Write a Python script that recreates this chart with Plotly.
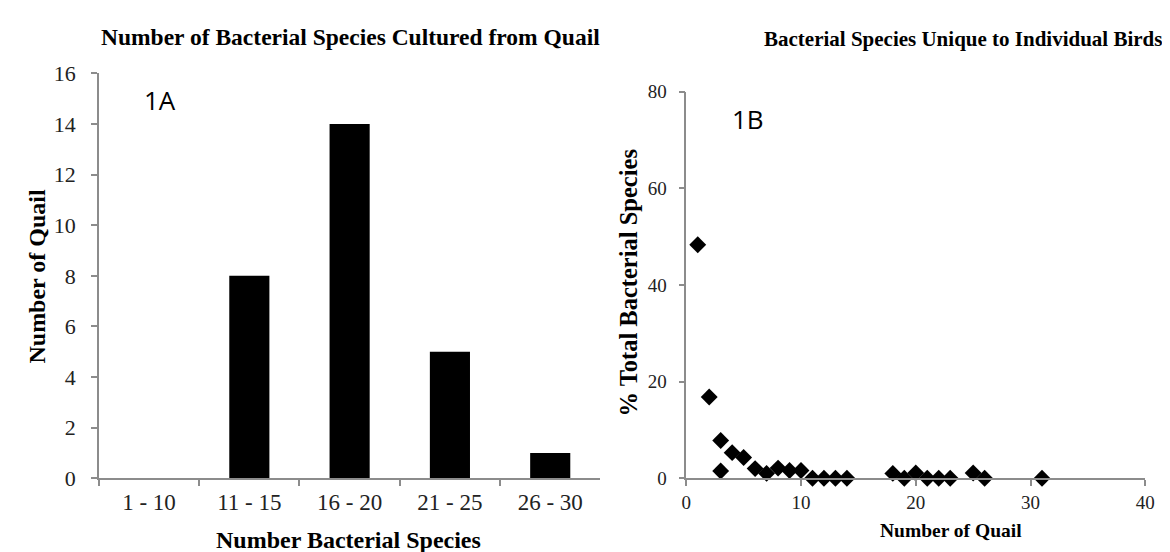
import plotly.graph_objects as go

# Panel 1A data
categories = ["1 - 10", "11 - 15", "16 - 20", "21 - 25", "26 - 30"]
quail_counts = [0, 8, 14, 5, 1]

# Panel 1B data
num_quail = [1, 2, 3, 3, 4, 5, 6, 7, 8, 9, 10, 11, 12, 13, 14, 18, 19, 20, 21, 22, 23, 25, 26, 31]
pct_species = [48.3, 16.8, 7.8, 1.5, 5.3, 4.3, 2.0, 1.0, 2.1, 1.6, 1.6, 0, 0, 0, 0,
               1.0, 0, 1.1, 0, 0, 0, 1.1, 0, 0]

y1_ticks = [0, 2, 4, 6, 8, 10, 12, 14, 16]
y2_ticks = [0, 20, 40, 60, 80]
x2_ticks = [0, 10, 20, 30, 40]

W, H = 1170, 552
serif = "Liberation Serif, Times New Roman, serif"
axis_col = "#8c8c8c"

fig = go.Figure()
fig.add_trace(go.Bar(x=categories, y=quail_counts, marker=dict(color="black", line=dict(width=0)),
                     xaxis="x", yaxis="y", showlegend=False))
fig.add_trace(go.Scatter(x=num_quail, y=pct_species, mode="markers",
                         marker=dict(symbol="diamond", size=13, color="black"),
                         cliponaxis=False, xaxis="x2", yaxis="y2", showlegend=False))

def px_x(p):
    return p / W

def px_y(p):
    return 1 - p / H

common = dict(showline=True, linecolor=axis_col, linewidth=1.5, showgrid=False, zeroline=False,
              ticks="outside", tickcolor=axis_col, ticklen=6, tickwidth=1.5)

fig.update_layout(
    width=W, height=H, margin=dict(l=0, r=0, t=0, b=0),
    paper_bgcolor="white", plot_bgcolor="white",
    bargap=0.6,
    xaxis=dict(domain=[px_x(87), px_x(595)], anchor="y", tickson="boundaries",
               tickfont=dict(family=serif, size=23, color="#222"), ticklabelstandoff=2, **common),
    yaxis=dict(domain=[px_y(480), px_y(56)], anchor="x", range=[0, 16], tickvals=y1_ticks,
               tickfont=dict(family=serif, size=22, color="#222"), ticklabelstandoff=11, **common),
    xaxis2=dict(domain=[px_x(682), px_x(1147)], anchor="y2", range=[0, 40], tickvals=x2_ticks,
                tickfont=dict(family=serif, size=19, color="#222"), **common),
    yaxis2=dict(domain=[px_y(480), px_y(75)], anchor="x2", range=[0, 80], tickvals=y2_ticks,
                tickfont=dict(family=serif, size=19, color="#222"), ticklabelstandoff=8, **common),
)

def ann(text, x, y, size, bold=True, family=serif, angle=0, xanchor="center"):
    fig.add_annotation(text=f"<b>{text}</b>" if bold else text, x=px_x(x), y=px_y(y),
                       xref="paper", yref="paper", showarrow=False, textangle=angle,
                       font=dict(family=family, size=size, color="black"),
                       xanchor=xanchor, yanchor="middle")

ann("Number of Bacterial Species Cultured from Quail", 342, 18, 23.5)
ann("Bacterial Species Unique to Individual Birds", 1166, 20, 21, xanchor="right")
ann("Number of Quail", 24, 268, 24, angle=-90)
ann("% Total Bacterial Species", 623, 276, 24.5, angle=-90)
ann("Number Bacterial Species", 340, 545, 24)
ann("Number of Quail", 950, 535, 19.5)
ann("1A", 149, 84, 26, bold=False, family="Open Sans, sans-serif")
ann("1B", 745, 104, 26, bold=False, family="Open Sans, sans-serif")

fig.write_html("out.html")
